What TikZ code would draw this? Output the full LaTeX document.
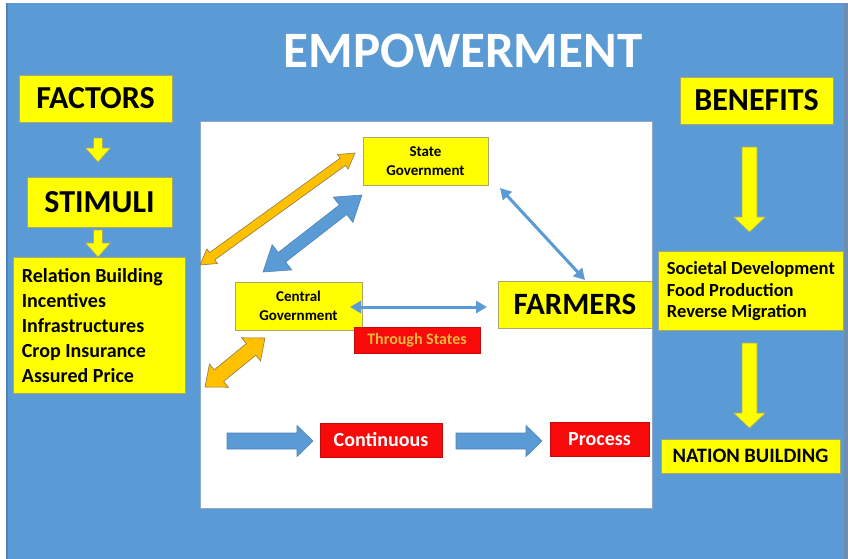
\documentclass[tikz,border=0pt]{standalone}
\usepackage{fontspec}
\setmainfont{Carlito}
\usetikzlibrary{calc,arrows.meta}

\definecolor{bgblue}{HTML}{5B9BD5}
\definecolor{edgeblue}{HTML}{6F8DAE}
\definecolor{boxyellow}{HTML}{FFFF00}
\definecolor{yellowline}{HTML}{A9A86A}
\definecolor{boxred}{HTML}{F80A0A}
\definecolor{orangefill}{HTML}{FFC000}
\definecolor{orangeline}{HTML}{8C7A4A}
\definecolor{arrowblue}{HTML}{5B9BD5}
\definecolor{arrowline}{HTML}{4E83B6}
\definecolor{throughtext}{HTML}{F4B840}
\definecolor{panelline}{HTML}{8FA8C4}

% double-headed block arrow: style, end A, end B, half shaft, half head, head length
\newcommand\blockdouble[6]{%
  \coordinate (bh1) at ($(#2)!#6!(#3)$);
  \coordinate (bh2) at ($(#3)!#6!(#2)$);
  \draw[#1] (#2) -- ($(bh1)!#5!90:(#3)$) -- ($(bh1)!#4!90:(#3)$)
    -- ($(bh2)!#4!-90:(#2)$) -- ($(bh2)!#5!-90:(#2)$) -- (#3)
    -- ($(bh2)!#5!90:(#2)$) -- ($(bh2)!#4!90:(#2)$)
    -- ($(bh1)!#4!-90:(#3)$) -- ($(bh1)!#5!-90:(#3)$) -- cycle;}

% single-headed block arrow: style, tail, tip, half shaft, half head, head length
\newcommand\blocksingle[6]{%
  \coordinate (bh) at ($(#3)!#6!(#2)$);
  \draw[#1] ($(#2)!#4!90:(#3)$) -- ($(bh)!#4!-90:(#2)$) -- ($(bh)!#5!-90:(#2)$)
    -- (#3) -- ($(bh)!#5!90:(#2)$) -- ($(bh)!#4!90:(#2)$)
    -- ($(#2)!#4!-90:(#3)$) -- cycle;}

\tikzset{
  ybox/.style={fill=boxyellow, draw=yellowline, line width=0.6pt, inner sep=0pt,
    text=black, font=\bfseries},
  rbox/.style={fill=boxred, draw=boxred!80!black, line width=0.5pt, inner sep=0pt,
    font=\bfseries},
  listtext/.style={inner sep=0pt, align=left, text=black, anchor=west},
  yarrow/.style={fill=boxyellow, draw=yellowline, line width=0.6pt, line join=miter},
  oarrow/.style={fill=orangefill, draw=orangeline, line width=0.6pt, line join=miter},
  barrow/.style={fill=arrowblue, draw=arrowline, line width=0.6pt, line join=miter},
  thinblue/.style={draw=arrowblue, line width=3pt,
    {Triangle[length=11pt,width=12pt]}-{Triangle[length=11pt,width=12pt]}},
}

\begin{document}
\begin{tikzpicture}[x=1pt,y=-1pt]
  \useasboundingbox (0,0) rectangle (848,559);
  % backdrop
  \fill[white] (0,0) rectangle (848,559);
  \fill[bgblue] (6,3) rectangle (848,559);
  \fill[edgeblue] (844,3) rectangle (848,559);
  \fill[bgblue!85!black] (6,3) rectangle (8,559);

  % title
  \node[font=\bfseries\fontsize{51}{60}\selectfont, text=white, inner sep=0pt]
    (title) at (463,51) {EMPOWERMENT};

  % central white panel
  \draw[fill=white, draw=panelline, line width=1pt] (200,122) rectangle (652,508);

  % left column
  \node[ybox, minimum width=153pt, minimum height=47pt, font=\bfseries\fontsize{32}{38}\selectfont]
    (factors) at (95.5,98.5) {FACTORS};
  \node[ybox, minimum width=145pt, minimum height=50pt, font=\bfseries\fontsize{32}{38}\selectfont]
    (stimuli) at (99.5,202) {STIMULI};
  \node[ybox, minimum width=172pt, minimum height=136pt] (stimlist) at (99,325) {};
  \node[listtext, font=\bfseries\fontsize{20}{25}\selectfont] (stimtext)
    at ($(stimlist.west)+(9,1)$)
    {Relation Building\\Incentives\\Infrastructures\\Crop Insurance\\Assured Price};

  \coordinate (fa1) at (98,138); \coordinate (fa2) at (98,162);
  \blocksingle{yarrow}{fa1}{fa2}{4.5pt}{12.5pt}{14pt}
  \coordinate (sa1) at (98,230); \coordinate (sa2) at (98,257);
  \blocksingle{yarrow}{sa1}{sa2}{4.5pt}{12.5pt}{14pt}

  % right column
  \node[ybox, minimum width=153pt, minimum height=47pt, font=\bfseries\fontsize{32}{38}\selectfont]
    (benefits) at (756.5,100.5) {BENEFITS};
  \node[ybox, minimum width=185pt, minimum height=79pt] (benlist) at (750.5,290.5) {};
  \node[listtext, font=\bfseries\fontsize{18.5}{21.5}\selectfont] (bentext)
    at ($(benlist.west)+(9,1)$)
    {Societal Development\\Food Production\\Reverse Migration};
  \node[ybox, minimum width=179pt, minimum height=34pt, font=\bfseries\fontsize{20.5}{24}\selectfont]
    (nation) at (750.5,456) {NATION BUILDING};

  \coordinate (ba1) at (749.5,147); \coordinate (ba2) at (749.5,232);
  \blocksingle{yarrow}{ba1}{ba2}{7.5pt}{16pt}{15pt}
  \coordinate (na1) at (749.5,343); \coordinate (na2) at (749.5,428);
  \blocksingle{yarrow}{na1}{na2}{7.5pt}{16pt}{15pt}

  % actors inside the panel
  \node[ybox, minimum width=125pt, minimum height=48pt, align=center,
    font=\bfseries\fontsize{15}{19}\selectfont]
    (state) at (425.5,161) {State\\Government};
  \node[ybox, minimum width=127pt, minimum height=48pt, align=center,
    font=\bfseries\fontsize{15}{19}\selectfont]
    (central) at (298.5,306) {Central\\Government};
  \node[ybox, minimum width=154pt, minimum height=47pt, font=\bfseries\fontsize{31}{37}\selectfont]
    (farmers) at (575,304.5) {FARMERS};
  \node[rbox, minimum width=126pt, minimum height=26pt, text=throughtext,
    font=\bfseries\fontsize{16}{19}\selectfont]
    (through) at (417,340) {Through States};

  % links between the actors
  \coordinate (sf1) at (500,188); \coordinate (sf2) at (585,280);
  \draw[thinblue] (sf1) -- (sf2);
  \coordinate (cf1) at (350,307); \coordinate (cf2) at (487,307);
  \draw[thinblue] (cf1) -- (cf2);
  \coordinate (cs1) at (263,272); \coordinate (cs2) at (362,195);
  \blockdouble{barrow}{cs1}{cs2}{6pt}{16pt}{24pt}
  \coordinate (ls1) at (200,265); \coordinate (ls2) at (355,153);
  \blockdouble{oarrow}{ls1}{ls2}{4.5pt}{9pt}{15pt}
  \coordinate (lc1) at (205,387); \coordinate (lc2) at (265,338);
  \blockdouble{oarrow}{lc1}{lc2}{7.5pt}{15pt}{18pt}

  % continuous process row
  \node[rbox, minimum width=122pt, minimum height=34pt, text=white,
    font=\bfseries\fontsize{20}{24}\selectfont]
    (continuous) at (381,440) {Continuous};
  \node[rbox, minimum width=99pt, minimum height=34pt, text=white,
    font=\bfseries\fontsize{20}{24}\selectfont]
    (process) at (599.5,439) {Process};
  \coordinate (pa1) at (227,441); \coordinate (pa2) at (313,441);
  \blocksingle{barrow}{pa1}{pa2}{8pt}{15.5pt}{16pt}
  \coordinate (pb1) at (456,441); \coordinate (pb2) at (542,441);
  \blocksingle{barrow}{pb1}{pb2}{8pt}{15.5pt}{16pt}
\end{tikzpicture}
\end{document}
